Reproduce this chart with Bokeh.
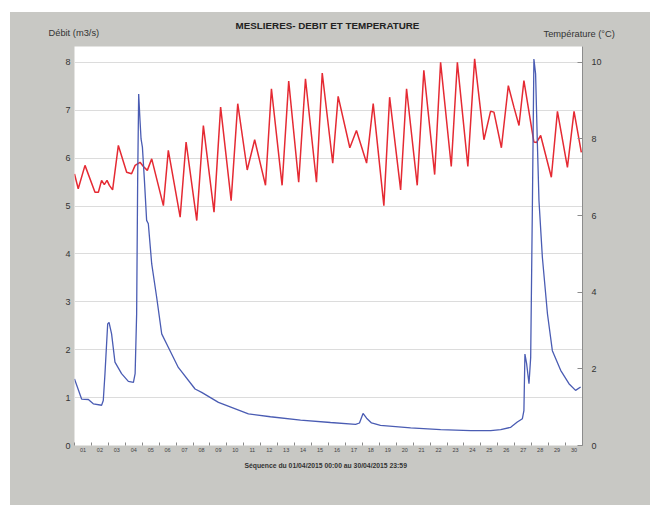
from bokeh.plotting import figure
from bokeh.models import Range1d, LinearAxis, FixedTicker, Label
from bokeh.layouts import column
from bokeh.embed import file_html
from bokeh.resources import INLINE

# ---- data (day of April 2015, fractional) ----
temp_days = [1.00, 1.22, 1.62, 2.21, 2.41, 2.60, 2.76, 2.92, 3.06, 3.25, 3.59, 4.08, 4.37,
             4.58, 4.87, 5.07, 5.30, 5.56, 6.25, 6.54, 7.24, 7.59, 8.22, 8.61, 9.24, 9.63,
             10.25, 10.64, 11.20, 11.64, 12.28, 12.63, 13.26, 13.65, 14.24, 14.64, 15.29,
             15.63, 16.25, 16.57, 17.26, 17.65, 18.25, 18.64, 19.27, 19.61, 20.26, 20.61,
             21.24, 21.63, 22.27, 22.62, 23.25, 23.61, 24.23, 24.63, 25.18, 25.57, 25.77,
             26.21, 26.62, 26.95, 27.25, 27.54, 28.13, 28.29, 28.53, 29.16, 29.52, 30.11,
             30.50, 30.93]
temp_c = [7.09, 6.70, 7.31, 6.61, 6.61, 6.92, 6.81, 6.92, 6.79, 6.67, 7.83, 7.13, 7.09,
          7.31, 7.39, 7.28, 7.18, 7.48, 6.26, 7.70, 5.96, 7.92, 5.87, 8.35, 6.09, 8.83,
          6.39, 8.92, 7.19, 7.98, 6.79, 9.31, 6.79, 9.51, 6.87, 9.57, 6.87,
          9.72, 7.37, 9.11, 7.77, 8.22, 7.37, 8.92, 6.26, 9.09, 6.67, 9.31,
          6.79, 9.79, 7.07, 10.00, 7.28, 10.00, 7.28, 10.09, 7.98, 8.72, 8.70,
          7.77, 9.39, 8.83, 8.35, 9.52, 7.92, 7.91, 8.09, 7.00, 8.72, 7.26,
          8.72, 7.65]

flow_days = [1.00, 1.42, 1.82, 2.11, 2.60, 2.70, 2.80, 2.96, 3.04, 3.19, 3.39, 3.78, 4.18,
             4.48, 4.58, 4.67, 4.73, 4.79, 4.87, 4.93, 5.01, 5.13, 5.26, 5.36, 5.56, 5.85,
             6.15, 6.54, 7.13, 8.12, 8.51, 9.50, 11.27, 12.57, 14.35, 16.12, 17.60, 17.83,
             18.04, 18.25, 18.54, 19.07, 20.85, 22.62, 24.40, 25.58, 26.17, 26.76, 27.15,
             27.45, 27.54, 27.60, 27.70, 27.84, 27.94, 28.04, 28.13, 28.23, 28.33, 28.43,
             28.63, 28.93, 29.22, 29.71, 30.20, 30.59, 30.89]
flow_m3s = [1.39, 0.97, 0.96, 0.87, 0.84, 0.94, 1.50, 2.54, 2.57, 2.33, 1.74, 1.50, 1.34,
            1.32, 1.50, 2.75, 5.53, 7.34, 6.78, 6.40, 6.23, 5.53, 4.70, 4.63, 3.79, 3.10,
            2.33, 2.05, 1.63, 1.18, 1.11, 0.90, 0.66, 0.60, 0.53, 0.48, 0.44, 0.47,
            0.67, 0.57, 0.47, 0.42, 0.37, 0.33, 0.31, 0.31, 0.33, 0.38, 0.49,
            0.56, 0.73, 1.91, 1.71, 1.29, 1.84, 4.98, 8.07, 7.76, 6.37, 5.11,
            3.93, 2.75, 1.98, 1.57, 1.29, 1.15, 1.22]

day_labels = ["01", "02", "03", "04", "05", "06", "07", "08", "09", "10",
              "11", "12", "13", "14", "15", "16", "17", "18", "19", "20",
              "21", "22", "23", "24", "25", "26", "27", "28", "29", "30"]
debit_ticks = [0, 1, 2, 3, 4, 5, 6, 7, 8]
temp_ticks = [0, 2, 4, 6, 8, 10]

title_text = "MESLIERES- DEBIT ET TEMPERATURE"
left_title = "Débit (m3/s)"
right_title = "Température (°C)"
footer_text = "Séquence du  01/04/2015 00:00  au  30/04/2015 23:59"

DEBIT_MAX = 8.33
TEMP_MAX = DEBIT_MAX * 1.25
FONT = "Liberation Sans"
GRAY_BG = "#c8c8c4"
W = 640
HEAD_H = 28
MAIN_H = 420
FOOT_H = 45


def text_strip(height):
    f = figure(width=W, height=height, output_backend="svg", toolbar_location=None,
               x_range=Range1d(0, W), y_range=Range1d(height, 0),
               x_axis_location=None, y_axis_location=None,
               min_border=0, min_border_left=0, min_border_right=0,
               min_border_top=0, min_border_bottom=0,
               background_fill_color=GRAY_BG, border_fill_color=GRAY_BG,
               outline_line_color=None, frame_align=False)
    f.grid.visible = False
    return f


# ---- header strip ----
head = text_strip(HEAD_H)
head.add_layout(Label(x=317, y=13, text=title_text, text_font=FONT,
                      text_font_size="9.8px", text_font_style="bold", text_color="#222222",
                      text_align="center", text_baseline="middle"))
head.add_layout(Label(x=38, y=20, text=left_title, text_font=FONT, text_font_size="9.3px",
                      text_color="#333333", text_align="left", text_baseline="middle"))
head.add_layout(Label(x=533, y=21, text=right_title, text_font=FONT, text_font_size="9.3px",
                      text_color="#333333", text_align="left", text_baseline="middle"))

# ---- main chart ----
p = figure(width=W, height=MAIN_H, output_backend="svg", toolbar_location=None,
           x_range=Range1d(1, 31), y_range=Range1d(0, DEBIT_MAX),
           min_border_left=64, min_border_right=68, min_border_top=6, min_border_bottom=15,
           background_fill_color="white", border_fill_color=GRAY_BG,
           outline_line_color=None)
p.extra_y_ranges = {"temp": Range1d(0, TEMP_MAX)}

day_centres = [i + 1.5 for i in range(len(day_labels))]
day_bounds = [i + 1 for i in range(len(day_labels) + 1)]
xa = p.xaxis[0]
xa.ticker = FixedTicker(ticks=day_centres, minor_ticks=day_bounds)
xa.major_label_overrides = {c: l for c, l in zip(day_centres, day_labels)}
xa.major_tick_in = 0
xa.major_tick_out = 0
xa.minor_tick_in = 3
xa.minor_tick_out = 0
xa.minor_tick_line_color = "#8a8a8a"
xa.axis_line_color = None
xa.major_label_text_font = FONT
xa.major_label_text_font_size = "5.5px"
xa.major_label_text_color = "#444444"
xa.major_label_standoff = 2

ya = p.yaxis[0]
ya.ticker = FixedTicker(ticks=debit_ticks)
ya.axis_line_color = None
ya.major_tick_line_color = None
ya.minor_tick_line_color = None
ya.major_tick_in = 0
ya.major_tick_out = 0
ya.minor_tick_in = 0
ya.minor_tick_out = 0
ya.major_label_text_font = FONT
ya.major_label_text_font_size = "9px"
ya.major_label_text_color = "#333333"
ya.major_label_standoff = 4

ra = LinearAxis(y_range_name="temp", ticker=FixedTicker(ticks=temp_ticks))
ra.axis_line_color = "#8c8c8c"
ra.major_tick_in = 5
ra.major_tick_out = 0
ra.minor_tick_in = 0
ra.minor_tick_out = 0
ra.major_tick_line_color = "#8c8c8c"
ra.minor_tick_line_color = None
ra.major_label_text_font = FONT
ra.major_label_text_font_size = "9px"
ra.major_label_text_color = "#333333"
ra.major_label_standoff = 9
p.add_layout(ra, "right")

p.xgrid.visible = False
p.ygrid.ticker = FixedTicker(ticks=debit_ticks)
p.ygrid.grid_line_color = "#dcdcdc"

p.line(temp_days, temp_c, y_range_name="temp", line_color="#e52a33", line_width=1.5)
p.line(flow_days, flow_m3s, line_color="#4a5cb3", line_width=1.3)

# ---- footer strip ----
foot = text_strip(FOOT_H)
foot.add_layout(Label(x=318, y=5, text=footer_text, text_font=FONT,
                      text_font_size="6.8px", text_font_style="bold", text_color="#333333",
                      text_align="center", text_baseline="middle"))

layout = column(head, p, foot, spacing=0, margin=(12, 0, 0, 10),
                styles={"background-color": GRAY_BG})

open("out.html", "w").write(file_html(layout, INLINE))
